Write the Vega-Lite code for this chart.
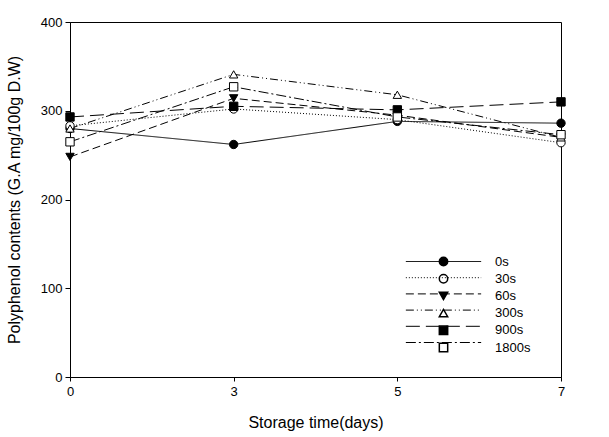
{
  "$schema": "https://vega.github.io/schema/vega-lite/v6.json",
  "width": 491,
  "height": 355,
  "autosize": "none",
  "padding": {"left": 70, "top": 22, "right": 48, "bottom": 60},
  "background": "white",
  "config": {
    "font": "Liberation Sans",
    "view": {"stroke": "black", "strokeWidth": 1},
    "axis": {
      "domainColor": "black",
      "tickColor": "black",
      "tickSize": 5,
      "labelColor": "black",
      "labelFontSize": 13,
      "titleFontSize": 16,
      "titleFontWeight": "normal",
      "titleColor": "black",
      "grid": false
    }
  },
  "data": {
    "values": [
      {"series": "0s", "day": 0, "value": 280},
      {"series": "0s", "day": 3, "value": 262},
      {"series": "0s", "day": 5, "value": 288},
      {"series": "0s", "day": 7, "value": 286},
      {"series": "30s", "day": 0, "value": 283},
      {"series": "30s", "day": 3, "value": 302},
      {"series": "30s", "day": 5, "value": 290},
      {"series": "30s", "day": 7, "value": 264},
      {"series": "60s", "day": 0, "value": 248},
      {"series": "60s", "day": 3, "value": 314},
      {"series": "60s", "day": 5, "value": 295},
      {"series": "60s", "day": 7, "value": 270},
      {"series": "300s", "day": 0, "value": 280},
      {"series": "300s", "day": 3, "value": 341},
      {"series": "300s", "day": 5, "value": 318},
      {"series": "300s", "day": 7, "value": 270},
      {"series": "900s", "day": 0, "value": 293},
      {"series": "900s", "day": 3, "value": 305},
      {"series": "900s", "day": 5, "value": 301},
      {"series": "900s", "day": 7, "value": 310},
      {"series": "1800s", "day": 0, "value": 265},
      {"series": "1800s", "day": 3, "value": 327},
      {"series": "1800s", "day": 5, "value": 293},
      {"series": "1800s", "day": 7, "value": 273}
    ]
  },
  "encoding": {
    "x": {
      "field": "day",
      "type": "ordinal",
      "scale": {"type": "point", "padding": 0},
      "axis": {"title": "Storage time(days)", "labelAngle": 0, "tickSize": 4, "labelPadding": 4, "titlePadding": 16}
    },
    "y": {
      "field": "value",
      "type": "quantitative",
      "scale": {"domain": [0, 400]},
      "axis": {"values": [0, 100, 200, 300, 400], "title": "Polyphenol contents (G.A mg/100g D.W)", "labelPadding": 3, "titlePadding": 18}
    }
  },
  "layer": [
    {
      "mark": {"type": "line", "color": "black", "strokeWidth": 1},
      "encoding": {
        "strokeDash": {
          "field": "series",
          "type": "nominal",
          "scale": {
            "domain": ["0s", "30s", "60s", "300s", "900s", "1800s"],
            "range": [[1, 0], [1, 2], [8, 4], [8, 3, 1, 3, 1, 3], [14, 6], [10, 3, 2, 3]]
          },
          "legend": {
            "orient": "none",
            "legendX": 367,
            "legendY": 233,
            "title": null,
            "symbolType": "M-9,0L9,0",
            "symbolSize": 70,
            "symbolStrokeWidth": 1,
            "symbolStrokeColor": "black",
            "labelFontSize": 13,
            "labelOpacity": 0,
            "rowPadding": 2.2
          }
        }
      }
    },
    {
      "mark": {"type": "point", "filled": true, "stroke": "black", "strokeWidth": 1, "size": 70, "opacity": 1},
      "encoding": {
        "shape": {
          "field": "series",
          "type": "nominal",
          "scale": {
            "domain": ["0s", "30s", "60s", "300s", "900s", "1800s"],
            "range": ["circle", "circle", "triangle-down", "triangle-up", "square", "square"]
          },
          "legend": {
            "orient": "none",
            "legendX": 367,
            "legendY": 233,
            "title": null,
            "symbolSize": 70,
            "labelFontSize": 13,
            "labelColor": "black",
            "labelOffset": 45,
            "rowPadding": 2.2,
            "encode": {
              "symbols": {"update": {"stroke": {"value": "black"}, "strokeWidth": {"value": 1}}}
            }
          }
        },
        "fill": {
          "field": "series",
          "type": "nominal",
          "scale": {
            "domain": ["0s", "30s", "60s", "300s", "900s", "1800s"],
            "range": ["black", "white", "black", "white", "black", "white"]
          }
        }
      }
    }
  ],
  "resolve": {"scale": {"strokeDash": "independent"}}
}
